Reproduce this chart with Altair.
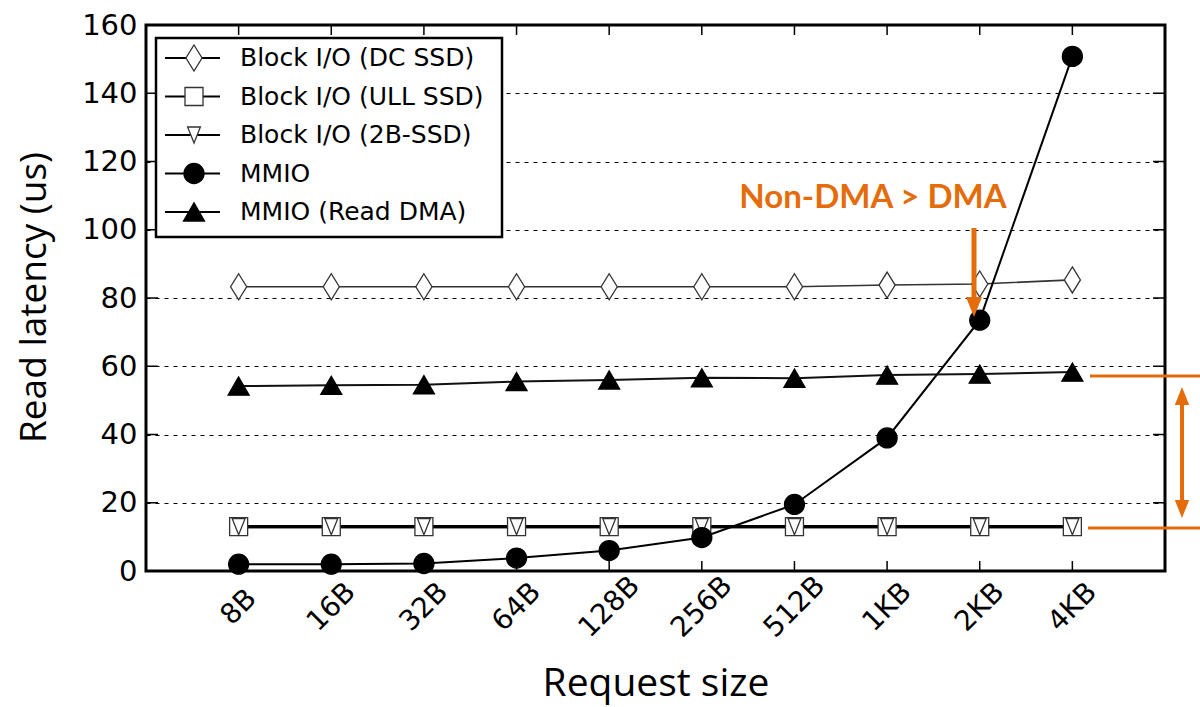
import altair as alt
import pandas as pd

# ---------------- data ----------------
sizes = ["8B", "16B", "32B", "64B", "128B", "256B", "512B", "1KB", "2KB", "4KB"]
series_names = ["Block I/O (DC SSD)", "Block I/O (ULL SSD)", "Block I/O (2B-SSD)",
                "MMIO", "MMIO (Read DMA)"]
dc_ssd = [83.3, 83.3, 83.3, 83.3, 83.3, 83.3, 83.3, 83.8, 84.1, 85.3]
ull_ssd = [13.0, 13.0, 13.0, 13.0, 13.0, 13.0, 13.0, 13.0, 13.0, 13.0]
b2_ssd = [13.0, 13.0, 13.0, 13.0, 13.0, 13.0, 13.0, 13.0, 13.0, 13.0]
mmio = [2.0, 2.0, 2.2, 3.8, 6.0, 9.8, 19.5, 39.0, 73.5, 150.8]
read_dma = [54.2, 54.4, 54.6, 55.5, 56.0, 56.6, 56.5, 57.4, 57.7, 58.3]
y_ticks = [0, 20, 40, 60, 80, 100, 120, 140, 160]
annotation_text = "Non-DMA > DMA"

values = [dc_ssd, ull_ssd, b2_ssd, mmio, read_dma]
rows = []
for name, vals in zip(series_names, values):
    for i, (s, v) in enumerate(zip(sizes, vals)):
        rows.append({"series": name, "size": s, "idx": i, "latency": v})
df = pd.DataFrame(rows)
legend_df = pd.DataFrame({"series": series_names, "row": list(range(len(series_names)))})
size_df = pd.DataFrame({"size": sizes})
ytick_df = pd.DataFrame({"latency": y_ticks})
one = pd.DataFrame({"a": [0]})

# ---------------- styles ----------------
ORANGE = "#E46C0A"
DIAMOND = "M0,-1L0.62,0L0,1L-0.62,0Z"
TRI_DOWN_IN = "M-0.8,-1L0.8,-1L0,1Z"
HEAD_DOWN = "M-0.8,-1L0.8,-1L0,1Z"
HEAD_UP = "M-0.8,1L0.8,1L0,-1Z"
styles = {
    series_names[0]: dict(lc="#333333", lw=1.6, shape=DIAMOND, size=676, fill="white", stroke="#333333"),
    series_names[1]: dict(lc="black", lw=3.2, shape="square", size=324, fill="white", stroke="#333333"),
    series_names[2]: dict(lc="black", lw=3.2, shape=TRI_DOWN_IN, size=256, fill="white", stroke="#333333"),
    series_names[3]: dict(lc="black", lw=2.0, shape="circle", size=400, fill="black", stroke="black"),
    series_names[4]: dict(lc="#111111", lw=2.0, shape="triangle-up", size=441, fill="black", stroke="black"),
}

W, H = 1019, 546

x_axis = alt.Axis(labelAngle=315, labelAlign="center", labelBaseline="middle", labelPadding=36,
                  labelFont="DejaVu Sans", labelFontSize=28, labelColor="black", labelOverlap=False,
                  ticks=False, tickSize=0, domain=False, grid=False,
                  title="Request size", titleFont="Open Sans", titleFontSize=39,
                  titleFontWeight="normal", titleColor="black", titleY=124,
                  titleBaseline="alphabetic")
y_axis = alt.Axis(values=y_ticks, grid=True, gridDash=[4, 5], gridColor="black", gridOpacity=1,
                  gridWidth=1.2, ticks=False, tickSize=0, domain=False,
                  labelFont="DejaVu Sans", labelFontSize=29, labelColor="black", labelPadding=9,
                  title="Read latency (us)", titleFont="Open Sans", titleFontSize=37,
                  titleFontWeight="normal", titleColor="black", titleAngle=270,
                  titleX=-101, titleY=272, titleAlign="center", titleBaseline="alphabetic")

xs = alt.Scale(type="point", domain=sizes, padding=1)
ys = alt.Scale(domain=[0, 160], nice=False, zero=True)


def X():
    return alt.X("size:N", scale=xs, axis=x_axis)


def Y():
    return alt.Y("latency:Q", scale=ys, axis=y_axis)


layers = []
# lines
for name in series_names:
    st = styles[name]
    layers.append(
        alt.Chart(df).transform_filter(alt.datum.series == name)
        .mark_line(color=st["lc"], strokeWidth=st["lw"])
        .encode(x=X(), y=Y(), order=alt.Order("idx:Q"))
    )
# markers
for name in series_names:
    st = styles[name]
    layers.append(
        alt.Chart(df).transform_filter(alt.datum.series == name)
        .mark_point(shape=st["shape"], size=st["size"], filled=True, fill=st["fill"],
                    stroke=st["stroke"], strokeWidth=1.3, opacity=1)
        .encode(x=X(), y=Y())
    )
# inside ticks (matplotlib style)
layers.append(alt.Chart(ytick_df).mark_rule(color="black", strokeWidth=1.5)
              .encode(y=Y(), x=alt.value(0), x2=alt.value(12)))
layers.append(alt.Chart(ytick_df).mark_rule(color="black", strokeWidth=1.5)
              .encode(y=Y(), x=alt.value(W - 12), x2=alt.value(W)))
layers.append(alt.Chart(size_df).mark_rule(color="black", strokeWidth=1.5)
              .encode(x=X(), y=alt.value(0), y2=alt.value(10)))
layers.append(alt.Chart(size_df).mark_rule(color="black", strokeWidth=1.5)
              .encode(x=X(), y=alt.value(H - 10), y2=alt.value(H)))

# annotations
layers.append(alt.Chart(one).mark_text(text=annotation_text, font="Lato", fontWeight="bold",
                                       fontSize=33, color=ORANGE, align="center",
                                       baseline="alphabetic")
              .encode(x=alt.value(727), y=alt.value(183)))
layers.append(alt.Chart(one).mark_rule(color=ORANGE, strokeWidth=5)
              .encode(x=alt.value(828), y=alt.value(203), y2=alt.value(276)))
layers.append(alt.Chart(one).mark_point(shape=HEAD_DOWN, size=400, filled=True, color=ORANGE, opacity=1)
              .encode(x=alt.value(828), y=alt.value(282)))
layers.append(alt.Chart(one).mark_rule(color=ORANGE, strokeWidth=3)
              .encode(x=alt.value(944), x2=alt.value(1054), y=alt.value(351)))
layers.append(alt.Chart(one).mark_rule(color=ORANGE, strokeWidth=3)
              .encode(x=alt.value(942), x2=alt.value(1054), y=alt.value(503)))
layers.append(alt.Chart(one).mark_rule(color=ORANGE, strokeWidth=4)
              .encode(x=alt.value(1036), y=alt.value(372), y2=alt.value(484)))
layers.append(alt.Chart(one).mark_point(shape=HEAD_UP, size=324, filled=True, color=ORANGE, opacity=1)
              .encode(x=alt.value(1036), y=alt.value(371)))
layers.append(alt.Chart(one).mark_point(shape=HEAD_DOWN, size=324, filled=True, color=ORANGE, opacity=1)
              .encode(x=alt.value(1036), y=alt.value(484)))

main = alt.layer(*layers)

# ---------------- hand-drawn legend ----------------
leg_y = alt.Y("row:Q", scale=alt.Scale(domain=[0, 4], range=[33, 187]), axis=None)
leg_layers = [
    alt.Chart(one).mark_rect(fill="white", stroke="black", strokeWidth=2.5)
    .encode(x=alt.value(10), x2=alt.value(356), y=alt.value(13), y2=alt.value(212)),
    alt.Chart(legend_df).mark_rule(color="black", strokeWidth=2)
    .encode(x=alt.value(19), x2=alt.value(74), y=leg_y),
]
for name in series_names:
    st = styles[name]
    leg_layers.append(
        alt.Chart(legend_df).transform_filter(alt.datum.series == name)
        .mark_point(shape=st["shape"], size=st["size"], filled=True, fill=st["fill"],
                    stroke=st["stroke"], strokeWidth=1.3, opacity=1)
        .encode(x=alt.value(48), y=leg_y)
    )
leg_layers.append(
    alt.Chart(legend_df).mark_text(font="DejaVu Sans", fontSize=25, color="black",
                                   align="left", baseline="middle")
    .encode(x=alt.value(94), y=leg_y, text="series:N")
)
legend = alt.layer(*leg_layers)

chart = (
    alt.layer(main, legend)
    .resolve_scale(y="independent")
    .properties(width=W, height=H, background="white",
                padding={"left": 146, "top": 25, "right": 35, "bottom": 136},
                autosize=alt.AutoSizeParams(type="none"))
    .configure_view(stroke="black", strokeWidth=3)
)

chart.save("out.html", embed_options={"renderer": "svg", "actions": False})
